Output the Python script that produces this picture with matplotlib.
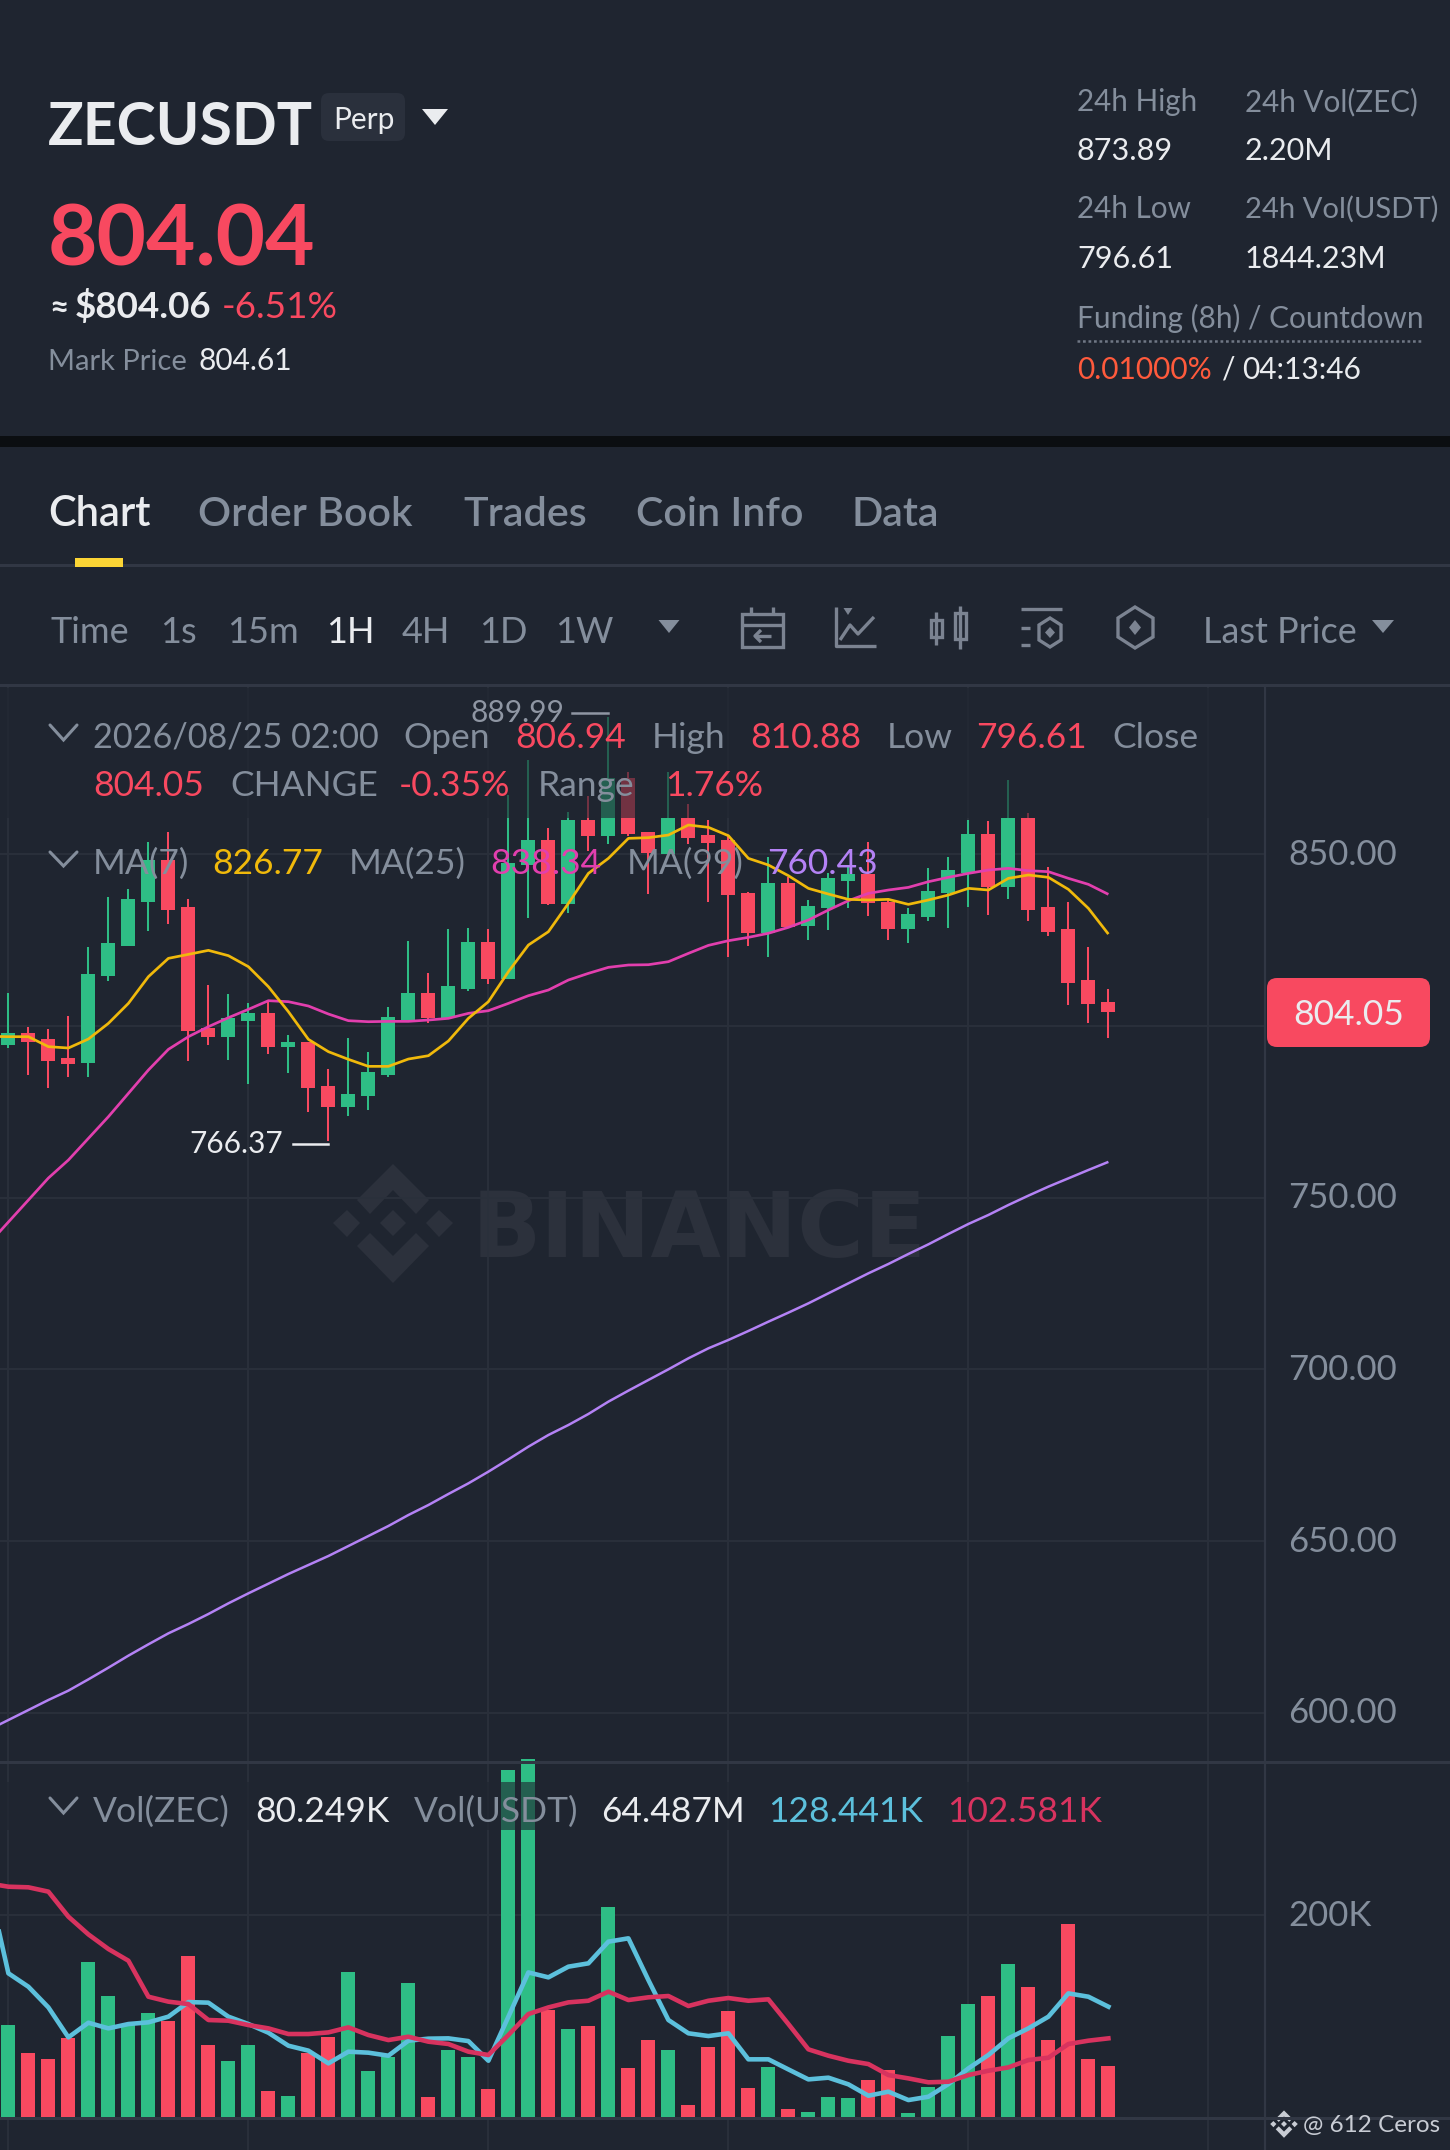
import matplotlib
matplotlib.use("Agg")
import matplotlib.pyplot as plt
from matplotlib.patches import Rectangle, FancyBboxPatch, Polygon
from matplotlib.transforms import ScaledTranslation
import numpy as np

FONT = "Lato"
plt.rcParams["font.family"] = [FONT, "DejaVu Sans"]

# ---------- data ----------
opens = [794.46,798.05,796.21,790.58,789.12,814.55,823.39,836.10,848.33,834.65,799.31,796.69,801.55,803.78,793.78,795.43,782.62,776.31,779.51,785.72,801.74,809.60,802.23,810.67,824.45,813.58,846.88,854.26,835.52,859.98,855.42,872.12,856.59,850.08,860.66,855.61,854.06,838.82,827.17,841.73,829.21,834.26,842.32,844.16,836.10,828.14,831.83,838.63,844.45,856.00,840.57,860.47,834.55,828.24,813.49,806.94]
closes = [798.05,795.43,789.90,788.93,815.23,824.26,836.88,848.33,833.77,798.63,796.69,802.23,803.78,793.98,795.33,781.94,776.31,780.29,786.60,802.52,809.60,802.23,811.54,824.45,813.58,847.36,854.26,835.42,859.98,855.42,872.12,855.81,850.28,860.66,854.84,853.19,838.04,826.98,841.73,828.73,835.04,843.09,844.16,835.91,828.14,832.71,839.40,845.32,856.00,840.57,860.47,833.77,827.46,812.61,806.50,804.05]
highs = [809.70,799.60,799.22,802.91,822.90,837.66,839.79,853.67,856.39,836.88,811.93,809.22,806.59,807.37,797.37,795.43,787.47,796.40,792.32,805.62,824.75,815.33,828.14,828.43,828.24,867.26,877.46,857.56,862.41,866.97,889.99,874.06,856.59,874.06,864.54,859.98,855.61,839.11,849.30,843.48,836.69,844.65,846.88,853.67,836.88,834.45,845.91,849.30,859.98,859.69,871.63,861.92,846.20,836.01,823.00,810.88]
lows = [793.49,785.72,782.04,785.24,785.24,813.20,823.39,827.56,829.70,789.80,794.36,790.19,783.20,791.94,786.21,775.05,766.37,773.79,775.43,785.24,801.74,800.96,802.23,810.19,812.32,813.58,831.54,835.20,833.00,850.95,852.99,855.42,838.43,850.08,852.99,836.01,819.99,823.39,819.99,828.43,825.04,827.95,834.45,832.03,825.04,824.16,830.67,828.53,834.74,832.32,836.88,830.57,826.30,806.11,800.96,796.61]
# moving averages start one hour before the first whole candle (clipped by the left edge)
ma7 = [797.0,796.89,796.89,793.98,793.59,796.21,800.77,806.59,814.36,819.70,820.86,822.03,820.48,817.27,811.45,804.17,796.11,792.52,790.29,788.25,788.25,790.38,791.35,795.63,802.23,807.08,815.82,823.58,827.46,835.72,844.45,848.82,854.64,854.84,855.61,858.53,857.85,855.42,848.82,846.88,843.77,840.08,838.43,836.88,836.69,836.88,835.42,836.69,838.14,840.08,839.60,843.00,843.97,843.29,839.79,834.26,826.77]
ma25 = [736.5,742.92,749.32,755.73,760.97,767.28,773.59,780.38,787.18,793.20,796.89,799.80,802.42,804.85,807.37,807.08,805.82,803.49,801.55,801.25,801.35,801.35,801.74,802.23,803.68,804.46,806.59,808.83,810.48,813.39,815.33,817.08,817.76,817.85,818.73,821.15,823.48,824.84,825.81,827.00,828.73,830.86,833.77,836.49,838.63,839.60,840.37,842.02,843.29,844.45,845.42,845.91,845.23,844.94,843.00,841.25,838.34]
ma99 = [595.0,597.90,600.81,603.73,606.45,609.74,613.14,616.64,619.94,623.14,625.86,628.77,631.88,634.79,637.60,640.42,643.04,645.66,648.57,651.48,654.40,657.60,660.51,663.72,666.82,670.22,673.81,677.50,680.90,683.81,687.02,690.61,693.81,696.92,700.02,703.23,706.14,708.57,711.19,713.90,716.53,719.24,722.16,725.07,727.98,730.70,733.61,736.42,739.43,742.35,744.97,747.88,750.60,753.22,755.64,758.07,760.43]
volume = [90.9,63.5,56.9,77.7,153.4,120.0,91.9,102.5,94.6,159.4,70.7,55.2,71.1,25.1,20.2,62.8,79.3,143.2,45.3,58.8,132.9,19.5,65.8,59.2,27.1,343.8,354.4,105.8,86.6,89.6,207.9,48.6,75.7,65.8,11.6,68.8,104.5,28.4,49.3,7.3,4.3,19.2,18.5,36.4,46.3,3.3,29.1,80.3,111.7,119.7,151.4,128.6,75.7,190.8,57.5,50.3]
vol_ma_blue = [230.0,142.2,128.9,108.4,78.7,93.2,87.6,91.9,93.6,99.2,113.7,113.1,99.2,91.9,83.3,70.4,65.5,52.9,64.5,63.5,60.5,75.4,77.4,77.7,75.0,55.5,99.2,143.1,138.2,148.8,152.1,173.6,176.9,135.5,95.9,82.7,80.0,82.7,56.9,56.9,46.9,37.0,38.7,32.1,20.8,24.8,16.5,19.8,32.4,47.9,61.2,77.7,87.6,99.2,122.3,119.0,109.1]
vol_ma_red = [231.4,228.1,227.5,223.2,198.4,180.8,166.3,154.7,119.0,114.1,111.7,95.9,95.2,90.9,87.6,82.0,82.0,83.6,88.6,81.0,76.0,79.3,74.4,72.1,64.5,61.2,81.0,101.8,108.4,113.4,115.0,124.0,115.7,118.4,119.7,109.8,115.0,117.7,115.0,116.4,91.9,66.8,60.5,55.5,52.2,41.3,38.0,34.1,34.7,41.3,45.6,48.9,56.2,58.5,72.1,75.4,77.7]
price_ticks = [850, 800, 750, 700, 650, 600]
volume_ticks = [200]
time_grid = [0, 12, 24, 36, 48, 60]

# ---------- colours ----------
BG = "#1f2530"; GRID = "#2a303b"; LINE = "#313744"
GRAY = "#848e9c"; WHITE = "#eaecef"; RED = "#f84960"; GREEN = "#2ebd85"
C7 = "#f0b90b"; C25 = "#e23fae"; C99 = "#b482f5"; CB = "#5cc0dc"; CR = "#d8335f"

W, H = 1450, 2150
fig = plt.figure(figsize=(W/100, H/100), dpi=100, facecolor=BG)

def px_axes(z):
    a = fig.add_axes([0, 0, 1, 1], zorder=z)
    a.set_xlim(0, W); a.set_ylim(H, 0); a.axis("off")
    return a

under = px_axes(0)
over = px_axes(5)

def box(l, t, r, b):
    return [l/W, 1-b/H, (r-l)/W, (b-t)/H]

# x data = candle index, 20 px per candle, first candle at 8.4 px
XLIM = (-8.4/20, (1265-8.4)/20)
P_T, P_B = 686, 1762
ax = fig.add_axes(box(0, P_T, 1265, P_B), zorder=2, facecolor="none")
ax.set_xlim(*XLIM)
ax.set_ylim(850-(P_B-854.3)/3.434, 850+(854.3-P_T)/3.434)
V_T, V_B = 1762, 2150
vx = fig.add_axes(box(0, V_T, 1265, V_B), zorder=2, facecolor="none")
vx.set_xlim(*XLIM)
vx.set_ylim(-(V_B-2116.7)/1.0083, (2116.7-V_T)/1.0083)

x = np.arange(len(opens))
xm = np.arange(-1, len(opens))
cols = [GREEN if c >= o else RED for o, c in zip(opens, closes)]

# price panel
ax.vlines(x, lows, highs, colors=cols, lw=1.45, zorder=3)
ax.bar(x, np.abs(np.array(closes)-np.array(opens)), bottom=np.minimum(opens, closes),
       width=0.7, color=cols, zorder=4)
ax.plot(xm, ma99, color=C99, lw=1.8, zorder=5, solid_capstyle="butt")
ax.plot(xm, ma25, color=C25, lw=1.95, zorder=5, solid_capstyle="butt")
ax.plot(xm, ma7, color=C7, lw=1.95, zorder=6, solid_capstyle="butt")

# volume panel
vx.bar(x, volume, width=0.7, color=cols, zorder=3, clip_on=False)
vx.plot(xm, vol_ma_red, color=CR, lw=3.3, zorder=5)
vx.plot(xm, vol_ma_blue, color=CB, lw=3.3, zorder=4)

for a in (ax, vx):
    a.set_xticks(time_grid); a.set_xticklabels([])
    a.tick_params(axis="x", length=0)
    a.grid(True, color=GRID, lw=1.4, zorder=0)
    a.set_axisbelow(True)
    for s in ("top", "left", "bottom"):
        a.spines[s].set_visible(False)
    a.spines["right"].set_color(LINE); a.spines["right"].set_linewidth(1.6)
    a.yaxis.tick_right()
    a.tick_params(axis="y", length=0, pad=17, labelsize=25, labelcolor=GRAY)
ax.set_yticks(price_ticks); ax.set_yticklabels([f"{v:.2f}" for v in price_ticks])
vx.set_yticks(volume_ticks); vx.set_yticklabels([f"{v}K" for v in volume_ticks])
vx.set_ylim(-(V_B-2116.7)/1.0083, (2116.7-V_T)/1.0083)
lift = ScaledTranslation(0, 2.5/100, fig.dpi_scale_trans)
for l in ax.get_yticklabels() + vx.get_yticklabels():
    l.set_va("center_baseline")
    l.set_transform(l.get_transform() + lift)

# ---------- background decoration ----------
def logo(a, cx, cy, k, col):
    # shapes measured around the logo centre
    shapes = [
        [(0,-59),(36,-23),(23,-9),(0,-33),(-23,-9),(-36,-23)],
        [(0,-13),(13,0),(0,13),(-13,0)],
        [(-46,-13),(-33,0),(-46,14),(-60,0)],
        [(46,-13),(60,0),(46,14),(33,0)],
        [(0,60),(36,23),(23,10),(0,33),(-23,10),(-36,23)],
    ]
    for s in shapes:
        a.add_patch(Polygon([(cx+k*u, cy+k*v) for u, v in s], closed=True, fc=col, ec="none"))

logo(under, 393, 1223, 1.0, "#2c313c")
under.text(472, 1257, "BINANCE", fontsize=65.5, fontweight="bold", color="#2c313c", va="baseline", ha="left", family=["DejaVu Sans"])

# ---------- overlay ----------
def t(px, py, s, size=25.5, color=GRAY, weight="normal", ha="left", z=10):
    return over.text(px, py, s, fontsize=size, color=color, fontweight=weight, ha=ha, va="baseline", zorder=z)

def hline(y, lw=3, col=LINE, l=0, r=W):
    over.add_patch(Rectangle((l, y-lw/2), r-l, lw, fc=col, ec="none", zorder=2))

def tri(cx, top, w, h, col):
    over.add_patch(Polygon([(cx-w/2, top), (cx+w/2, top), (cx, top+h)], closed=True, fc=col, ec="none", zorder=3))

def chevron(y1, y2):
    over.plot([50, 63.5, 77], [y1, y2, y1], color=GRAY, lw=2.2, zorder=10, solid_capstyle="round", solid_joinstyle="miter")

# dimming behind the legend rows
over.add_patch(Rectangle((0, 688), 1264, 130, fc=BG, ec="none", alpha=0.62, zorder=1))
over.add_patch(Rectangle((0, 1782), 1110, 48, fc=BG, ec="none", alpha=0.62, zorder=1))

# strip between header and chart
over.add_patch(Rectangle((0, 436), W, 11, fc="#0b0e11", ec="none", zorder=2))
hline(565); hline(685); hline(1762); hline(2118)

# header left
t(48, 145, "ZECUSDT", 42.5, WHITE, "bold")
over.add_patch(FancyBboxPatch((325, 97), 76, 40, boxstyle="round,pad=4,rounding_size=8", fc="#2a303c", ec="none", zorder=2))
t(333, 129, "Perp", 21.5, WHITE)
tri(435, 109, 26, 16, WHITE)
t(48, 266, "804.04", 61.5, RED, "bold")
t(49, 318, "≈", 24, WHITE, "bold")
t(75, 318, "$804.06", 26.5, WHITE, "bold")
t(222, 318, "-6.51%", 26.5, RED)
t(48, 370, "Mark Price", 21, GRAY)
t(199, 370, "804.61", 21.5, WHITE)

# header right
t(1077, 111, "24h High", 21.3); t(1245, 111, "24h Vol(ZEC)", 21.3)
t(1077, 160, "873.89", 22, WHITE); t(1245, 160, "2.20M", 22, WHITE)
t(1077, 218, "24h Low", 21.3); t(1245, 218, "24h Vol(USDT)", 21.1)
t(1077, 268, "796.61", 22, WHITE); t(1245, 268, "1844.23M", 22, WHITE)
t(1077, 328, "Funding (8h) / Countdown", 21.4)
over.plot([1077, 1422], [341, 341], color="#6f7785", lw=1.8, ls=(0, (1.1, 1.1)), zorder=3)
t(1077, 379, "0.01000%", 21.5, "#ff5a3c")
t(1222, 379, "/", 21.5, WHITE)
t(1242, 379, "04:13:46", 21.5, WHITE)

# tabs
t(48, 526.5, "Chart", 30, WHITE, "semibold")
for px, s in [(198, "Order Book"), (463, "Trades"), (636, "Coin Info"), (852, "Data")]:
    t(px, 526.5, s, 29.7, GRAY, "semibold")
over.add_patch(Rectangle((75, 558), 48, 9, fc="#fcd535", ec="none", zorder=4))

# toolbar
for px, s, c in [(51, "Time", GRAY), (160, "1s", GRAY), (227, "15m", GRAY), (326, "1H", WHITE),
                 (402, "4H", GRAY), (479, "1D", GRAY), (555, "1W", GRAY)]:
    t(px, 643, s, 26, c)
tri(669, 620, 21, 13, GRAY)
t(1203, 643, "Last Price", 26)
tri(1383, 620, 22, 13, GRAY)

IC = "#7b8391"; LW = 2.4
def L(xs, ys, lw=LW):
    over.plot(xs, ys, color=IC, lw=lw, zorder=4, solid_capstyle="butt")
# calendar
over.add_patch(Rectangle((742, 614), 41, 33, fc="none", ec=IC, lw=LW, zorder=4))
L([742, 783], [625, 625]); L([751, 751], [607, 614]); L([773, 773], [607, 614])
L([755, 771], [636, 636]); L([761, 755, 761], [630, 636, 642])
# chart line
L([836, 836, 876], [607, 646, 646])
L([840, 850, 858, 874], [640, 625, 634, 617])
tri(848, 608, 9, 7, IC)
# candles
over.add_patch(Rectangle((931, 620), 11, 17, fc="none", ec=IC, lw=LW, zorder=4))
over.add_patch(Rectangle((955, 613), 11, 26, fc="none", ec=IC, lw=LW, zorder=4))
L([936.5, 936.5], [612, 645]); L([960.5, 960.5], [606, 649])
# settings
L([1021, 1062], [609, 609]); L([1021, 1030], [628, 628]); L([1021, 1030], [645, 645])
over.add_patch(Polygon([(1050, 618), (1061, 625), (1061, 640), (1050, 647), (1039, 640), (1039, 625)], closed=True, fc="none", ec=IC, lw=LW, zorder=4))
over.add_patch(Polygon([(1050, 627), (1055, 632.5), (1050, 638), (1045, 632.5)], closed=True, fc=IC, ec="none", zorder=4))
# hexagon
over.add_patch(Polygon([(1135, 607), (1153, 618), (1153, 637), (1135, 648), (1118, 637), (1118, 618)], closed=True, fc="none", ec=IC, lw=LW, zorder=4))
over.add_patch(Polygon([(1135, 620), (1141, 627.5), (1135, 635), (1129, 627.5)], closed=True, fc=IC, ec="none", zorder=4))

# legend rows
chevron(725, 740)
t(93, 747.5, "2026/08/25 02:00", 24.6); t(403, 747.5, "Open"); t(515, 747.5, "806.94", color=RED)
t(652, 747.5, "High"); t(750, 747.5, "810.88", color=RED); t(887, 747.5, "Low")
t(976, 747.5, "796.61", color=RED); t(1112, 747.5, "Close")
t(93, 795.5, "804.05", color=RED); t(230, 795.5, "CHANGE"); t(399, 795.5, "-0.35%", color=RED)
t(538, 795.5, "Range"); t(665, 795.5, "1.76%", color=RED)
chevron(852, 866)
t(93, 873.5, "MA(7)"); t(212, 873.5, "826.77", color=C7); t(349, 873.5, "MA(25)")
t(490, 873.5, "838.34", color=C25); t(627, 873.5, "MA(99)"); t(767, 873.5, "760.43", color=C99)
chevron(1798, 1813)
t(93, 1821.5, "Vol(ZEC)"); t(255, 1821.5, "80.249K", color=WHITE); t(414, 1821.5, "Vol(USDT)")
t(601, 1821.5, "64.487M", color=WHITE); t(768, 1821.5, "128.441K", color=CB); t(947, 1821.5, "102.581K", color=CR)

# high / low markers
t(564, 722, "889.99", 21.5, "#8f96a3", ha="right")
over.plot([572, 608], [713, 713], color="#8f96a3", lw=1.8, zorder=10)
t(283, 1153, "766.37", 21.5, WHITE, ha="right")
over.plot([293, 328], [1144, 1144], color=WHITE, lw=1.8, zorder=10)

# last price tag
over.add_patch(FancyBboxPatch((1275, 986), 147, 53, boxstyle="round,pad=8,rounding_size=10", fc=RED, ec="none", zorder=4))
t(1348.5, 1025, "804.05", 25.5, WHITE, ha="center")

# signature
logo(over, 1284, 2124, 0.23, "#c8ccd4")
t(1303, 2132, "@ 612 Ceros", 17.5, "#c8ccd4")

fig.savefig("out.png", dpi=100, facecolor=BG)
